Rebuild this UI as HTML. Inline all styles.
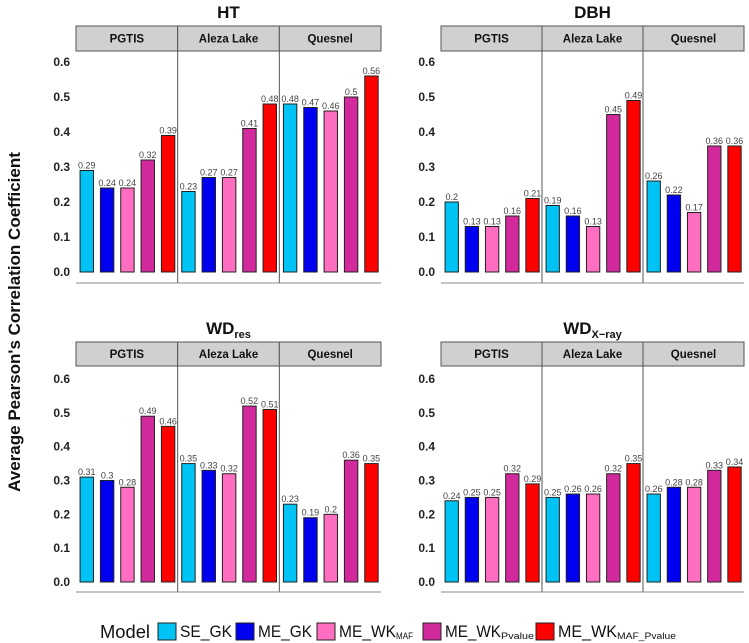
<!DOCTYPE html>
<html><head><meta charset="utf-8"><style>
body{margin:0;background:#fff;}
svg{display:block;font-family:"Liberation Sans",Arial,sans-serif;}
</style></head><body>
<svg id="c" width="749" height="643" viewBox="0 0 749 643"></svg>
<script>
const sites = ["PGTIS","Aleza Lake","Quesnel"];
const models = ["SE_GK","ME_GK","ME_WK_MAF","ME_WK_Pvalue","ME_WK_MAF_Pvalue"];
const colors = ["#00c3f5","#0000f0","#ff6ec0","#d22a9c","#ff0000"];
const yTicks = [0,0.1,0.2,0.3,0.4,0.5,0.6];
const yTickLabels = ["0.0","0.1","0.2","0.3","0.4","0.5","0.6"];
const htVals = [[0.29,0.24,0.24,0.32,0.39],[0.23,0.27,0.27,0.41,0.48],[0.48,0.47,0.46,0.5,0.56]];
const dbhVals = [[0.2,0.13,0.13,0.16,0.21],[0.19,0.16,0.13,0.45,0.49],[0.26,0.22,0.17,0.36,0.36]];
const wdresVals = [[0.31,0.3,0.28,0.49,0.46],[0.35,0.33,0.32,0.52,0.51],[0.23,0.19,0.2,0.36,0.35]];
const wdxVals = [[0.24,0.25,0.25,0.32,0.29],[0.25,0.26,0.26,0.32,0.35],[0.26,0.28,0.28,0.33,0.34]];

const NS="http://www.w3.org/2000/svg";
const svg=document.getElementById('c');
function mk(tag,attrs,parent,text){const e=document.createElementNS(NS,tag);for(const k in attrs)e.setAttribute(k,attrs[k]);if(text!==undefined)e.textContent=text;(parent||svg).appendChild(e);return e;}

function panel(name,title,sub,vals,x0,x1,stripTop,stripBot,y0,y6,bottom,titleY){
  const g=mk('g',{});
  
  
  const yS=v=>y0+(y6-y0)*v/0.6;
  const t=mk('text',{x:(x0+x1)/2,y:titleY,'text-anchor':'middle','font-size':17,'font-weight':'bold',fill:'#111'},g,title);
  
  
  if(sub){mk('tspan',{'font-size':11,dy:4},t,sub);}
  const fw=(x1-x0)/3;
  yTicks.forEach((v,i)=>{
    const tl=mk('text',{x:x0-6,y:yS(v)+4,'text-anchor':'end','font-size':12,'font-weight':'bold',fill:'#222'},g,yTickLabels[i]);
    
    
  });
  sites.forEach((s,si)=>{
    const fx=x0+si*fw;
    const st=mk('rect',{x:fx,y:stripTop,width:fw,height:stripBot-stripTop,fill:'#d0d0d0',stroke:'#555','stroke-width':1},g);
    
    
    const sl=mk('text',{x:fx+fw/2,y:(stripTop+stripBot)/2+4,'text-anchor':'middle','font-size':11.5,'font-weight':'bold',fill:'#111'},g,s);
    
    
    const step=fw/5;
    vals[si].forEach((v,mi)=>{
      const bx=fx+mi*step+step*0.2;
      const bw=step*0.66;
      const b=mk('rect',{x:bx,y:yS(v),width:bw,height:yS(0)-yS(v),fill:colors[mi],stroke:'#222','stroke-width':1},g);
      
      
      const lb=mk('text',{x:bx+bw/2,y:yS(v)-2,'text-anchor':'middle','font-size':9,fill:'#444'},g,String(v));
      
      
    });
    if(si>0){mk('line',{x1:fx,x2:fx,y1:stripBot,y2:bottom,stroke:'#555','stroke-width':1},g);}
  });
  mk('line',{x1:x0,x2:x1,y1:bottom,y2:bottom,stroke:'#888','stroke-width':1},g);
}
panel('ht','HT','',htVals,76,381,26,51,272,62,283,18);
panel('dbh','DBH','',dbhVals,441,744,26,51,272,62,283,18);
panel('wdres','WD','res',wdresVals,76,381,342,366,582,379,592,334);
panel('wdx','WD','X\u2212ray',wdxVals,441,744,342,366,582,379,592,334);

const yt=mk('text',{x:0,y:0,transform:'translate(20,322) rotate(-90)','text-anchor':'middle','font-size':17,'font-weight':'bold',fill:'#111'},svg,"Average Pearson's Correlation Coefficient");



const legendX=[158,236,317,423,536];
const legendMain=["SE_GK","ME_GK","ME_WK","ME_WK","ME_WK"];
const legendSub=["","","MAF","Pvalue","MAF_Pvalue"];
const mainW=[52,54,57,56,59];
const subW=[0,0,17,33,59];
const lm=mk('text',{x:100,y:638,'font-size':18,fill:'#111',textLength:50,lengthAdjust:'spacingAndGlyphs'},svg,'Model');


legendX.forEach((x,i)=>{
  const r=mk('rect',{x:x,y:623,width:18,height:17,fill:colors[i],stroke:'#222','stroke-width':1});
  
  
  const t=mk('text',{x:x+22,y:637,'font-size':17,fill:'#111',textLength:mainW[i],lengthAdjust:'spacingAndGlyphs'},svg,legendMain[i]);
  
  
  if(legendSub[i]){
    const s=mk('text',{x:x+22+mainW[i],y:639,'font-size':9,fill:'#111',textLength:subW[i],lengthAdjust:'spacingAndGlyphs'},svg,legendSub[i]);
    
    
  }
});
</script>
</body></html>
